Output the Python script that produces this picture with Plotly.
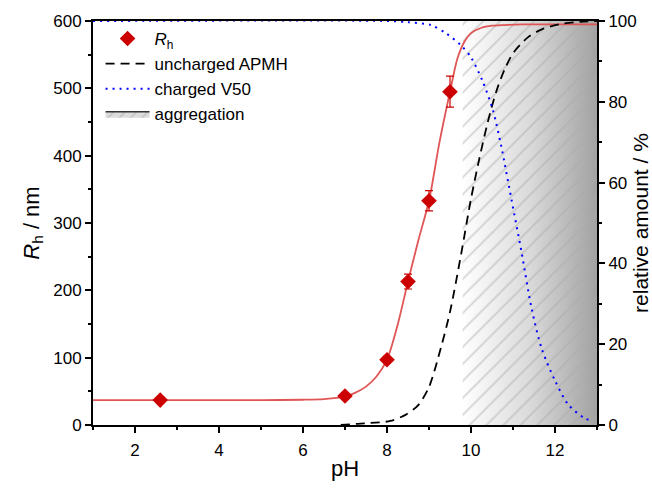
import plotly.graph_objects as go

# Measured data
ph_pts = [2.6, 7.0, 8.0, 8.5, 9.0, 9.5]
rh_pts = [37, 43, 97, 213, 333, 495]
rh_err = [0, 0, 5, 11, 15, 23]

# Fit curve
ph_fit = [1, 2, 3, 4, 5, 6, 6.5, 7, 7.25, 7.5, 7.75, 8, 8.25, 8.5, 8.75, 9, 9.25, 9.5, 9.68, 9.85, 10.0, 10.25, 10.5, 10.8, 11.2, 12, 13]
rh_fit = [37, 37, 37, 37, 37, 37.5, 38.5, 42, 48, 57, 72, 97, 148, 213, 275, 333, 420, 495, 545, 570, 582, 590, 593, 594, 595, 595, 595]

# uncharged APMH (%)
ph_apmh = [6.9, 7.3, 7.6, 8.08, 8.44, 8.75, 9.0, 9.28, 9.5, 9.76, 10.0, 10.2, 10.4, 10.6, 10.8, 11.0, 11.36, 11.7, 12.16, 12.6, 13]
apmh = [0, 0.3, 0.5, 1, 2.5, 5, 9.4, 19, 28, 42, 56, 66, 75, 82.5, 88, 92, 96, 98, 99.3, 99.8, 100]

# charged V50 (%)
ph_v50 = [1, 8.0, 8.5, 9.04, 9.4, 9.76, 10.0, 10.28, 10.52, 10.72, 10.96, 11.2, 11.44, 11.68, 12.0, 12.32, 12.72, 12.85]
v50 = [100, 100, 99.7, 99, 97, 94, 91, 85, 78, 69, 56, 43, 29, 19, 11, 5, 1.6, 1.2]

# aggregation region
agg_x = [9.8, 13, 13, 9.8, 9.8]
agg_y = [0, 0, 600, 600, 0]

grad = [[0, 'rgba(255,255,255,1)'], [0.5, 'rgba(218,218,218,1)'], [1, 'rgba(162,162,162,1)']]
patt = dict(shape='/', fgcolor='#aaaaaa', bgcolor='rgba(0,0,0,0)', size=12, solidity=0.14)

fig = go.Figure()

fig.add_trace(go.Scatter(x=agg_x, y=agg_y, mode='lines', fill='toself',
                         line=dict(width=0, color='rgba(0,0,0,0)'),
                         fillgradient=dict(type='horizontal', colorscale=grad),
                         showlegend=False, hoverinfo='skip'))
fig.add_trace(go.Scatter(x=agg_x, y=agg_y, mode='lines', fill='toself',
                         line=dict(width=0, color='rgba(0,0,0,0)'),
                         fillcolor='rgba(0,0,0,0)', fillpattern=patt,
                         showlegend=False, hoverinfo='skip'))
# legend-only entry for aggregation
fig.add_trace(go.Scatter(x=[None], y=[None], mode='lines', fill='toself',
                         line=dict(width=1.5, color='#333'),
                         fillcolor='#d0d0d0', fillpattern=dict(shape='/', fgcolor='#999', bgcolor='#dcdcdc', size=8, solidity=0.15),
                         name='aggregation', legendrank=4))

fig.add_trace(go.Scatter(x=ph_fit, y=rh_fit, mode='lines', line=dict(color='#e05555', width=1.8, shape='spline', smoothing=0.8),
                         showlegend=False))
fig.add_trace(go.Scatter(x=ph_pts, y=rh_pts, mode='markers', name='<i>R</i><sub>h</sub>',
                         marker=dict(symbol='diamond', size=12, color='#cc0000'),
                         error_y=dict(type='data', array=rh_err, color='#cc0000', thickness=1.2, width=4),
                         legendrank=1))
fig.add_trace(go.Scatter(x=ph_apmh, y=apmh, mode='lines', yaxis='y2', name='uncharged APMH',
                         line=dict(color='black', width=1.8, dash='9px,6px', shape='spline', smoothing=0.8), legendrank=2))
fig.add_trace(go.Scatter(x=ph_v50, y=v50, mode='lines', yaxis='y2', name='charged V50',
                         line=dict(color='#0000ff', width=2, dash='2px,5px', shape='spline', smoothing=0.8), legendrank=3))

axis_common = dict(showline=True, linecolor='black', linewidth=2, ticks='outside', ticklen=6,
                   tickwidth=1.5, tickcolor='black', showgrid=False, zeroline=False,
                   tickfont=dict(size=17, color='black'))

fig.update_layout(
    width=652, height=495,
    margin=dict(l=93, r=55, t=21, b=70),
    plot_bgcolor='white', paper_bgcolor='white',
    font=dict(family='Liberation Sans, Arial, sans-serif', color='black'),
    xaxis=dict(range=[1, 13], dtick=2, mirror=True, ticklabelstandoff=3, automargin=True,
               minor=dict(dtick=1, ticks='outside', ticklen=3, tickcolor='black', tickwidth=1.5),
               title=dict(text='pH', font=dict(size=22), standoff=1), **axis_common),
    yaxis=dict(range=[0, 600], dtick=100, automargin=False,
               minor=dict(dtick=50, ticks='outside', ticklen=3, tickcolor='black', tickwidth=1.5),
               title=dict(text='<i>R</i><sub>h</sub> / nm', font=dict(size=22), standoff=8), **axis_common),
    yaxis2=dict(range=[0, 100], dtick=20, overlaying='y', side='right', automargin=False,
                minor=dict(dtick=10, ticks='outside', ticklen=3, tickcolor='black', tickwidth=1.5),
                title=dict(text='relative amount / %', font=dict(size=21), standoff=6), **axis_common),
    legend=dict(x=0.015, y=1.0, xanchor='left', yanchor='top', bgcolor='rgba(0,0,0,0)',
                font=dict(size=17), tracegroupgap=0, itemwidth=44),
)

fig.write_html('out.html')
